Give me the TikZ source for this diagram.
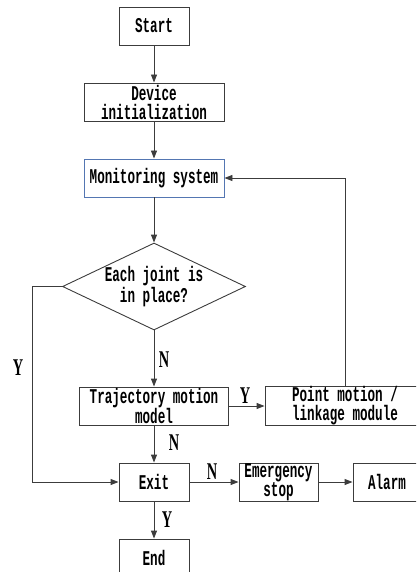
\documentclass[tikz,border=0pt]{standalone}
\usepackage{fontspec}
\usetikzlibrary{shapes.geometric,arrows.meta}
\newfontfamily\boxfont[FakeStretch=0.6]{Liberation Mono}
\newfontfamily\lblfont[FakeStretch=0.6]{Liberation Serif}
\definecolor{lc}{RGB}{60,60,60}
\definecolor{bluebord}{RGB}{84,118,178}
\tikzset{
  box/.style={draw=lc, line width=0.9pt, rectangle, minimum height=38pt, inner sep=0pt,
    align=center, font=\boxfont\bfseries\fontsize{21}{19}\selectfont},
  dia/.style={draw=lc, line width=0.9pt, diamond, aspect=2.1, minimum width=183pt,
    minimum height=87pt, inner sep=0pt, align=center,
    font=\boxfont\bfseries\fontsize{21}{19}\selectfont},
  lbl/.style={inner sep=0pt, font=\lblfont\bfseries\fontsize{24}{24}\selectfont},
  arr/.style={draw=lc, line width=0.9pt, -{Triangle[length=8pt,width=6pt]}},
  ln/.style={draw=lc, line width=0.9pt}
}
\begin{document}
\begin{tikzpicture}[x=1pt,y=-1pt]
\clip (0,0) rectangle (416,572);
\node[box, minimum width=70pt] (start) at (154,26) {Start};
\node[box, minimum width=140pt] (dev) at (154,102) {Device\\initialization};
\node[box, draw=bluebord, minimum width=140pt] (mon) at (154,178) {Monitoring system};
\node[dia] (dec) at (154,286.5) {Each joint is\\in place?};
\node[box, minimum width=149pt] (traj) at (154,406) {Trajectory motion\\model};
\node[box, minimum width=160pt] (pt) at (345,406) {Point motion /\\linkage module};
\node[box, minimum width=70pt] (exit) at (154,482) {Exit};
\node[box, minimum width=79pt] (emg) at (278.5,482) {Emergency\\stop};
\node[box, minimum width=68pt] (alarm) at (387,482) {Alarm};
\node[box, minimum width=70pt] (end) at (154,558) {End};
\coordinate (lft) at (32,0);

\draw[arr] (start) -- (dev);
\draw[arr] (dev) -- (mon);
\draw[arr] (mon) -- (dec);
\draw[arr] (dec) -- (traj);
\draw[arr] (traj) -- (pt);
\draw[arr] (traj) -- (exit);
\draw[arr] (exit) -- (emg);
\draw[arr] (emg) -- (alarm);
\draw[arr] (exit) -- (end);
\draw[arr] (dec.west) -- (lft |- dec.west) |- (exit.west);
\draw[arr] (pt.north) |- (mon.east);

\node[lbl] (yl) at (18,368) {Y};
\node[lbl] (n1) at (164,360) {N};
\node[lbl] (y2) at (245,396) {Y};
\node[lbl] (n2) at (174,443) {N};
\node[lbl] (n3) at (212,472) {N};
\node[lbl] (y3) at (167,520) {Y};
\end{tikzpicture}
\end{document}
